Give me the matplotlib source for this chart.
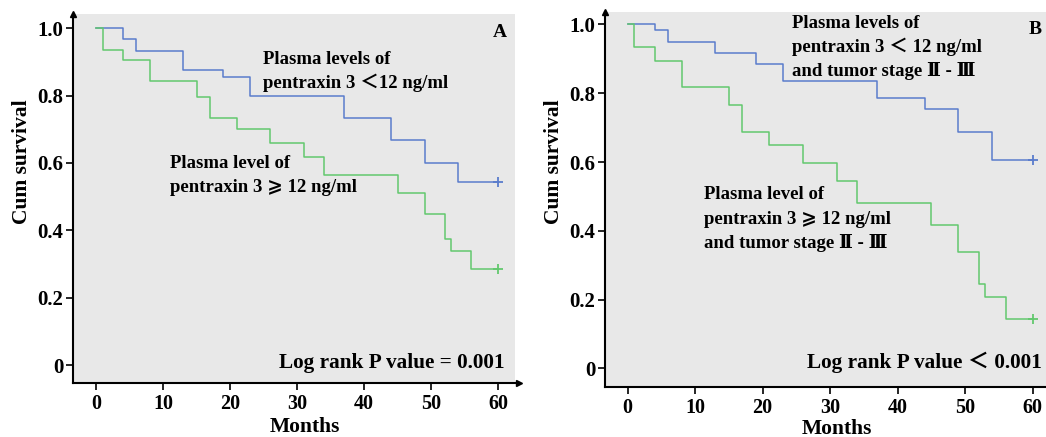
import matplotlib.pyplot as plt

# Kaplan-Meier curves (months, cumulative survival)
a_low_t = [0, 4, 6, 13, 19, 23, 37, 44, 49, 54, 60]
a_low_s = [1.0, 0.967, 0.933, 0.877, 0.855, 0.80, 0.733, 0.667, 0.60, 0.544, 0.544]
a_high_t = [0, 1, 4, 8, 15, 17, 21, 26, 31, 34, 45, 49, 52, 53, 56, 60]
a_high_s = [1.0, 0.936, 0.904, 0.842, 0.797, 0.734, 0.702, 0.660, 0.617, 0.565,
            0.511, 0.447, 0.373, 0.340, 0.286, 0.286]

b_low_t = [0, 4, 6, 13, 19, 23, 37, 44, 49, 54, 60]
b_low_s = [1.0, 0.983, 0.949, 0.917, 0.885, 0.836, 0.787, 0.754, 0.688, 0.606, 0.606]
b_high_t = [0, 1, 4, 8, 15, 17, 21, 26, 31, 34, 45, 49, 52, 53, 56, 60]
b_high_s = [1.0, 0.934, 0.894, 0.817, 0.766, 0.688, 0.649, 0.597, 0.544, 0.481,
            0.417, 0.338, 0.246, 0.208, 0.143, 0.143]

x_ticks = [0, 10, 20, 30, 40, 50, 60]
y_ticks = [0, 0.2, 0.4, 0.6, 0.8, 1.0]
y_ticklabels = ['0', '0.2', '0.4', '0.6', '0.8', '1.0']

a_low_label = ['Plasma levels of', 'pentraxin 3 \uff1c12 ng/ml']
a_high_label = ['Plasma level of', 'pentraxin 3 \u2a7e 12 ng/ml']
b_low_label = ['Plasma levels of', 'pentraxin 3 \uff1c 12 ng/ml', 'and tumor stage \u2161 - \u2162']
b_high_label = ['Plasma level of', 'pentraxin 3 \u2a7e 12 ng/ml', 'and tumor stage \u2161 - \u2162']
a_pval = 'Log rank P value = 0.001'
b_pval = 'Log rank P value \uff1c 0.001'

BLUE = '#5a7ccc'
GREEN = '#62c86e'
BG = '#e8e8e8'
FAM = ['Liberation Serif', 'DejaVu Serif', 'DejaVu Sans', 'Noto Sans CJK SC']

plt.rcParams['font.family'] = FAM
plt.rcParams['font.weight'] = 'bold'

fig = plt.figure(figsize=(10.46, 4.37), dpi=100)
axA = fig.add_axes([0.0698, 0.1236, 0.4226, 0.8444])
axB = fig.add_axes([0.5784, 0.1151, 0.4216, 0.8581])


def panel(ax, lo_t, lo_s, hi_t, hi_s, xlim, ylim, lo_lab, lo_xy, hi_lab, hi_xy,
          letter, letter_xy, pval, pval_xy, months_y):
    ax.set_facecolor(BG)
    ax.step(lo_t, lo_s, where='post', color=BLUE, lw=1.1)
    ax.step(hi_t, hi_s, where='post', color=GREEN, lw=1.1)
    ax.plot(lo_t[-1], lo_s[-1], '+', color=BLUE, ms=7, mew=1.3)
    ax.plot(hi_t[-1], hi_s[-1], '+', color=GREEN, ms=7, mew=1.3)
    ax.set_xlim(*xlim)
    ax.set_ylim(*ylim)
    ax.set_xticks(x_ticks)
    ax.set_yticks(y_ticks)
    ax.set_yticklabels(y_ticklabels)
    ax.tick_params(length=5, width=1.2)
    ax.tick_params(axis='x', labelsize=14.5, pad=3)
    ax.tick_params(axis='y', labelsize=15, pad=2)
    for s in ['top', 'right']:
        ax.spines[s].set_visible(False)
    for s in ['left', 'bottom']:
        ax.spines[s].set_linewidth(1.5)
    ax.plot(0, 1, '^', color='black', ms=4, transform=ax.transAxes, clip_on=False)
    ax.plot(1.01, 0, '>', color='black', ms=4, transform=ax.transAxes, clip_on=False)
    ax.set_ylabel('Cum survival', fontsize=15.5, fontweight='bold')
    ax.yaxis.set_label_coords(-0.093, 0.60)
    ax.set_xlabel('Months', fontsize=15.5, fontweight='bold')
    ax.xaxis.label.set_va('baseline')
    ax.xaxis.set_label_coords(0.525, months_y)
    for i, line in enumerate(lo_lab):
        ax.text(lo_xy[0], lo_xy[1] - i * 0.071, line, fontsize=13.5, fontweight='bold',
                va='baseline', ha='left')
    for i, line in enumerate(hi_lab):
        ax.text(hi_xy[0], hi_xy[1] - i * 0.071, line, fontsize=13.5, fontweight='bold',
                va='baseline', ha='left')
    ax.text(letter_xy[0], letter_xy[1], letter, fontsize=14, fontweight='bold',
            va='baseline', ha='right')
    ax.text(pval_xy[0], pval_xy[1], pval, fontsize=15.3, fontweight='bold',
            va='baseline', ha='right')


panel(axA, a_low_t, a_low_s, a_high_t, a_high_s, (-3.43, 62.5), (-0.053, 1.042),
      a_low_label, (24.9, 0.893), a_high_label, (11.0, 0.585),
      'A', (61.3, 0.973), a_pval, (60.9, -0.01), -0.132)
panel(axB, b_low_t, b_low_s, b_high_t, b_high_s, (-3.36, 62.0), (-0.053, 1.037),
      b_low_label, (24.4, 0.991), b_high_label, (11.3, 0.492),
      'B', (61.4, 0.971), b_pval, (61.4, 0.0), -0.126)

fig.savefig('out.png', dpi=100)
